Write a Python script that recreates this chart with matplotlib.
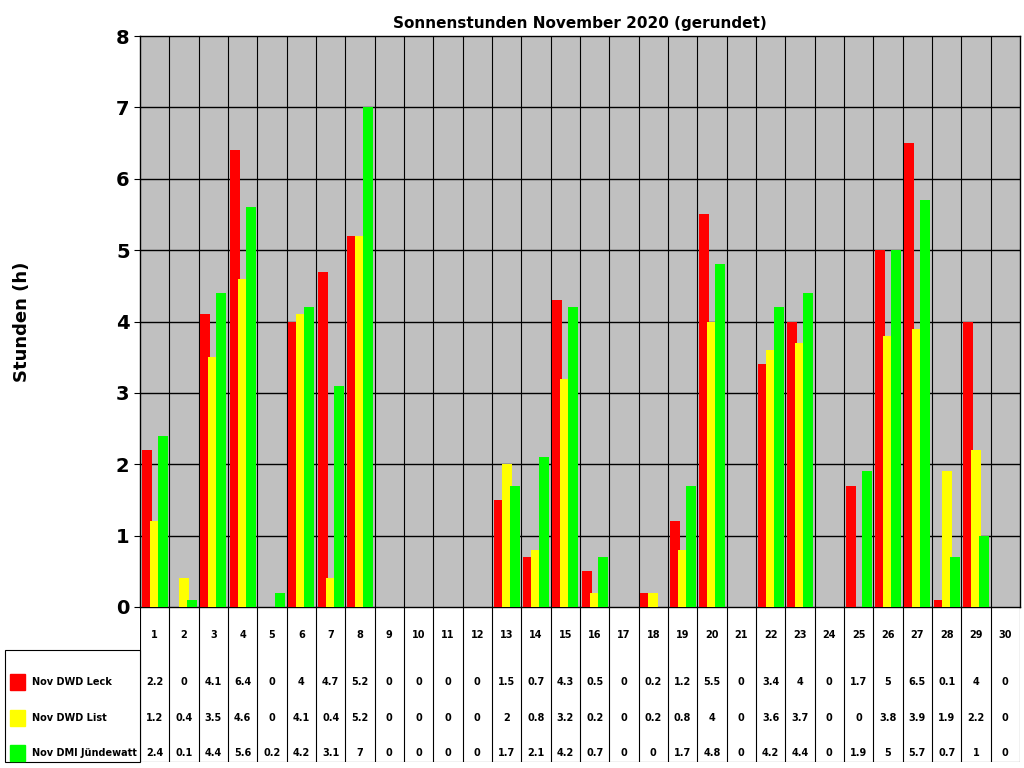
import matplotlib
matplotlib.use("Agg")
import matplotlib.pyplot as plt
from matplotlib.patches import Rectangle
import numpy as np

days = [str(i) for i in range(1, 31)]
leck = [2.2,0,4.1,6.4,0,4,4.7,5.2,0,0,0,0,1.5,0.7,4.3,0.5,0,0.2,1.2,5.5,0,3.4,4,0,1.7,5,6.5,0.1,4,0]
lst = [1.2,0.4,3.5,4.6,0,4.1,0.4,5.2,0,0,0,0,2,0.8,3.2,0.2,0,0.2,0.8,4,0,3.6,3.7,0,0,3.8,3.9,1.9,2.2,0]
dmi = [2.4,0.1,4.4,5.6,0.2,4.2,3.1,7,0,0,0,0,1.7,2.1,4.2,0.7,0,0,1.7,4.8,0,4.2,4.4,0,1.9,5,5.7,0.7,1,0]
names = ["Nov DWD Leck", "Nov DWD List", "Nov DMI Jündewatt"]
colors = ["#FF0000", "#FFFF00", "#00FF00"]
series = [leck, lst, dmi]

W, H = 1024, 768
fig = plt.figure(figsize=(10.24, 7.68), dpi=100)
L, R, T, B = 140, 1020, 36, 607
ax = fig.add_axes([L/W, 1-B/H, (R-L)/W, (B-T)/H])
ax.set_facecolor("#C0C0C0")
x = np.arange(30) + 0.5
offs = [-0.27, 0, 0.27]
for s, c, o in zip(series, colors, offs):
    ax.bar(x + o, s, width=0.34, color=c, zorder=3)
ax.set_xlim(0, 30)
ax.set_ylim(0, 8)
ax.set_yticks(range(9))
ax.set_yticklabels([str(i) for i in range(9)], fontsize=14, fontweight="bold")
ax.set_xticks([])
for yy in range(1, 8):
    ax.axhline(yy, color="black", lw=1, zorder=1)
for xx in range(1, 30):
    ax.axvline(xx, color="black", lw=0.8, zorder=1)
for sp in ax.spines.values():
    sp.set_linewidth(1)
ax.tick_params(axis="y", length=4)
ax.set_title("Sonnenstunden November 2020 (gerundet)", fontsize=11, fontweight="bold", pad=6)
fig.text(22/W, 1-322/H, "Stunden (h)", rotation=90, fontsize=13, fontweight="bold", ha="center", va="center")

# table
TT, TB = 607, 762
tax = fig.add_axes([L/W, 1-TB/H, (R-L)/W, (TB-TT)/H])
tax.set_xlim(0, 30)
tax.set_ylim(TB, TT)
tax.axis("off")
for xx in range(0, 31):
    tax.plot([xx, xx], [TT, TB], color="black", lw=0.8)
tax.plot([0, 30], [TB, TB], color="black", lw=0.8)
for i in range(30):
    tax.text(i + 0.5, 635, days[i], ha="center", va="center", fontsize=7, fontweight="bold")
rows_y = [682, 718, 753]
for s, yy in zip(series, rows_y):
    for i, v in enumerate(s):
        tax.text(i + 0.5, yy, f"{v:g}", ha="center", va="center", fontsize=7, fontweight="bold")
# label column
fig.add_artist(Rectangle((5/W, 1-TB/H), (L-5)/W, (TB-650)/H, transform=fig.transFigure,
                         fill=False, ec="black", lw=0.8))
for n, c, yy in zip(names, colors, rows_y):
    fig.add_artist(Rectangle((10/W, 1-(yy+8)/H), 15/W, 16/H, transform=fig.transFigure,
                             color=c))
    fig.text(32/W, 1-yy/H, n, fontsize=7, fontweight="bold", va="center")

fig.savefig("out.png", dpi=100)
